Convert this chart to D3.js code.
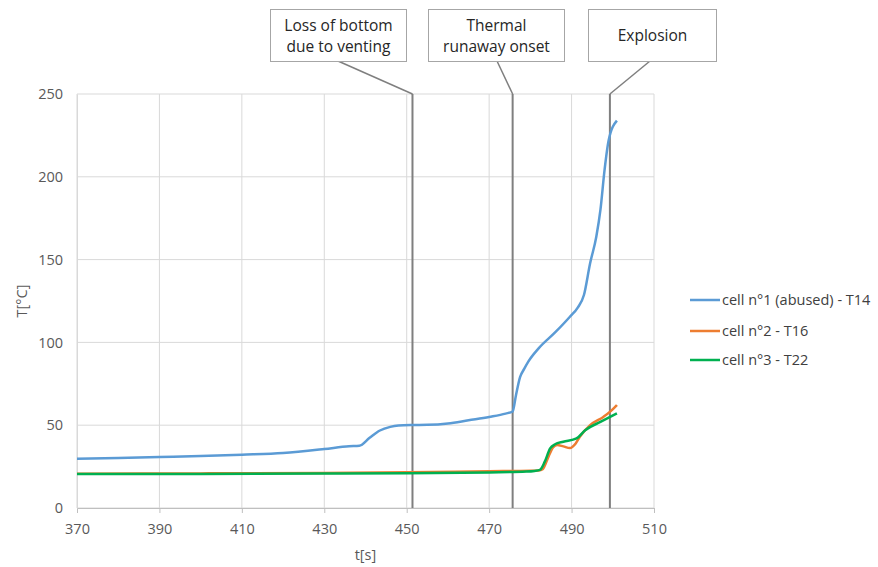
<!DOCTYPE html>
<html lang="en">
<head>
<meta charset="utf-8">
<title>Cell temperatures</title>
<script src="https://cdn.jsdelivr.net/npm/d3@7"></script>
<style>
  body { margin: 0; background: #fff; }
  svg text { font-family: "Open Sans", "Liberation Sans", sans-serif; }
  .tick text { fill: #595959; font-size: 14.5px; }
  .callout text { fill: #262626; font-size: 15.5px; }
  .legend text { fill: #404040; font-size: 14.5px; }
</style>
</head>
<body>
<script>
// data
var t1 = [370, 380, 390, 400, 410, 420, 430, 436, 438.5, 441, 443.5, 446, 448, 451, 455, 460, 465, 470, 474, 475.7, 476.5, 477.5, 478.5, 479.5, 482, 486, 489.6, 491.5, 493, 494.5, 496, 497, 498, 499, 501];
var T1 = [29.7, 30.2, 30.8, 31.4, 32.2, 33.2, 35.6, 37.3, 37.6, 42.4, 46.8, 49, 49.8, 50.1, 50.2, 51, 53, 55, 57, 58.3, 68, 79, 84, 88.4, 96.4, 106, 115.5, 121, 128.6, 147.8, 163.8, 180, 204, 222, 233.9];

var t2 = [370, 400, 430, 450, 470, 480, 482, 483, 484.4, 485.5, 486.5, 488, 489.6, 491, 492, 494.5, 497.7, 499.5, 501];
var T2 = [20.7, 20.9, 21.2, 21.6, 22.2, 22.5, 22.7, 23.5, 31, 36.5, 38, 37.2, 36.2, 39, 43, 50, 55, 58.5, 62.2];

var t3 = [370, 400, 430, 450, 470, 479, 481, 482.3, 483.5, 484.8, 486, 488, 491.2, 493.3, 497, 501];
var T3 = [20.5, 20.6, 20.8, 21, 21.5, 22, 22.4, 23, 28, 36, 38.5, 40, 42, 47, 52, 57.2];

var seriesNames = ["cell n°1 (abused) - T14", "cell n°2 - T16", "cell n°3 - T22"];
var seriesColors = ["#5b9bd5", "#ed7d31", "#00b050"];

var xTicks = [370, 390, 410, 430, 450, 470, 490, 510];
var yTicks = [0, 50, 100, 150, 200, 250];

var eventTimes = [451.4, 475.7, 499.3];
var eventLabels = [["Loss of bottom", "due to venting"], ["Thermal", "runaway onset"], ["Explosion"]];

var w = 878, h = 567;
var pLeft = 77, pRight = 654, pTop = 94, pBottom = 508;

var svg = d3.select("body").append("svg")
  .attr("width", w).attr("height", h);

var x = d3.scaleLinear().domain([370, 510]).range([pLeft, pRight]);
var y = d3.scaleLinear().domain([0, 250]).range([pBottom, pTop]);

// gridlines
svg.append("g").selectAll("line").data(xTicks).enter().append("line")
  .attr("x1", d => x(d)).attr("x2", d => x(d))
  .attr("y1", pTop).attr("y2", pBottom)
  .attr("stroke", "#d9d9d9").attr("stroke-width", 1);
svg.append("g").selectAll("line").data(yTicks).enter().append("line")
  .attr("x1", pLeft).attr("x2", pRight)
  .attr("y1", d => y(d)).attr("y2", d => y(d))
  .attr("stroke", "#d9d9d9").attr("stroke-width", 1);

// axes
var xAxis = svg.append("g")
  .attr("transform", "translate(0," + pBottom + ")")
  .call(d3.axisBottom(x).tickValues(xTicks).tickSize(5).tickPadding(11));
xAxis.select(".domain").attr("stroke", "#bfbfbf");
xAxis.selectAll(".tick line").attr("stroke", "#bfbfbf");

var yAxis = svg.append("g")
  .attr("transform", "translate(" + pLeft + ",0)")
  .call(d3.axisLeft(y).tickValues(yTicks).tickSize(0).tickPadding(14));
yAxis.select(".domain").attr("stroke", "#d9d9d9");

// axis titles
svg.append("text")
  .attr("x", (pLeft + pRight) / 2).attr("y", 560)
  .attr("text-anchor", "middle")
  .attr("fill", "#595959").style("font-size", "14.5px")
  .text("t[s]");
svg.append("text")
  .attr("transform", "translate(27," + ((pTop + pBottom) / 2) + ") rotate(-90)")
  .attr("text-anchor", "middle")
  .attr("fill", "#595959").style("font-size", "14.5px")
  .text("T[°C]");

// event lines
svg.append("g").selectAll("line").data(eventTimes).enter().append("line")
  .attr("x1", d => x(d)).attr("x2", d => x(d))
  .attr("y1", pTop).attr("y2", pBottom)
  .attr("stroke", "#7f7f7f").attr("stroke-width", 2);

// series
var line = d3.line()
  .x(d => x(d[0])).y(d => y(d[1]))
  .curve(d3.curveMonotoneX);
var series = [d3.zip(t1, T1), d3.zip(t2, T2), d3.zip(t3, T3)];
svg.append("g").selectAll("path").data(series).enter().append("path")
  .attr("d", line)
  .attr("fill", "none")
  .attr("stroke", (d, i) => seriesColors[i])
  .attr("stroke-width", 2.5)
  .attr("stroke-linejoin", "round");

// callouts
var boxes = [{x: 270, w: 136, ax: 338}, {x: 428, w: 136, ax: 497}, {x: 588, w: 128, ax: 650}];
var boxTop = 9, boxH = 52;
var co = svg.append("g").attr("class", "callout");
boxes.forEach(function (b, i) {
  co.append("line")
    .attr("x1", b.ax).attr("y1", boxTop + boxH)
    .attr("x2", x(eventTimes[i])).attr("y2", pTop)
    .attr("stroke", "#7f7f7f").attr("stroke-width", 1.5);
  co.append("rect")
    .attr("x", b.x + 0.5).attr("y", boxTop + 0.5)
    .attr("width", b.w).attr("height", boxH)
    .attr("fill", "#fff").attr("stroke", "#a6a6a6").attr("stroke-width", 1);
  var lines = eventLabels[i];
  var t = co.append("text")
    .attr("x", b.x + b.w / 2 + 0.5)
    .attr("text-anchor", "middle");
  lines.forEach(function (s, k) {
    t.append("tspan")
      .attr("x", b.x + b.w / 2 + 0.5)
      .attr("y", boxTop + boxH / 2 + 6 + (k - (lines.length - 1) / 2) * 21)
      .text(s);
  });
});

// legend
var lg = svg.append("g").attr("class", "legend");
var legY = [300, 331, 360];
seriesNames.forEach(function (name, i) {
  lg.append("line")
    .attr("x1", 690).attr("x2", 720)
    .attr("y1", legY[i]).attr("y2", legY[i])
    .attr("stroke", seriesColors[i]).attr("stroke-width", 2.5);
  lg.append("text")
    .attr("x", 722).attr("y", legY[i] + 5)
    .text(name);
});
</script>
</body>
</html>
